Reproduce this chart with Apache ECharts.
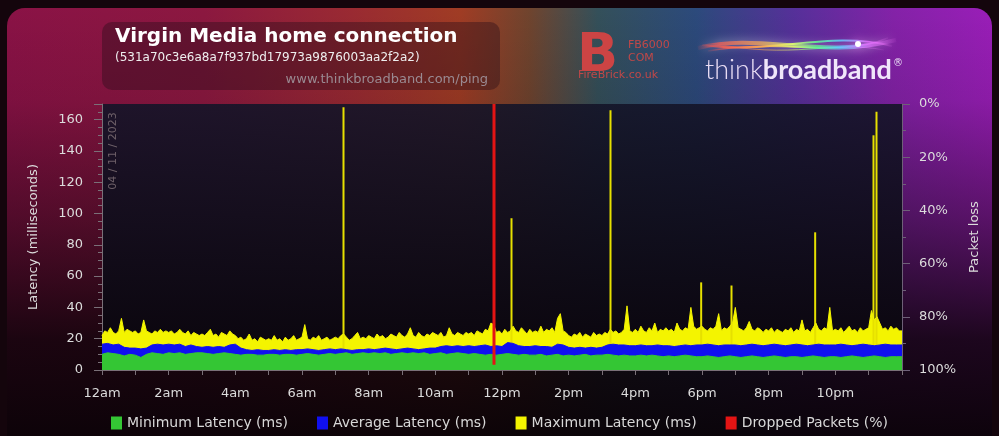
<!DOCTYPE html>
<html><head><meta charset="utf-8">
<script src="https://cdn.jsdelivr.net/npm/echarts@6/dist/echarts.min.js"></script>
<style>html,body{margin:0;padding:0;background:#12050c}#c{width:999px;height:436px}</style>
</head><body><div id="c"></div>
<script>
// x-axis tick labels (every 2 hours)
const xLabels = ['12am','2am','4am','6am','8am','10am','12pm','2pm','4pm','6pm','8pm','10pm'];
// Minimum latency (ms), one value every 10 minutes from 00:00 to 24:00
const minLatency = [
 10,11,10.5,10,9,10,  9.5,8,10,11,10.5,10,  11,10.5,11,10,10.5,11,  11,10.5,10,10.5,11,10.5,
 10,9.5,10,10,9.5,9.5,  10,10,9.5,10,10,9.5,  10,10.5,10,9.5,10,10.5,  10,10.5,11,10,10.5,11,
 10.5,11,10.5,11,10,10.5,  11,10.5,11,10.5,11,10,  10.5,11,10,10.5,11,10.5,  10,10.5,10,9.5,10,9.5,
 10,10.5,10,9.5,10,9.5,  9.5,10,9,9.5,10,9,  9.5,9,9.5,10,9,9.5,  9.5,10,9.5,9,9.5,9,
 9,9.5,9,9.5,9,8.5,  9,8.5,9,9.5,9,8.5,  8.5,9,8.5,8,8.5,9,  8.5,8,8.5,9,8.5,8,
 8.5,9,8.5,8,8.5,8.5,  8,8.5,9,8.5,8,8.5,  8.5,8,8.5,9,8.5,8,  8.5,9,8.5,8,8.5,8.5,
 8.5
];
// Average latency (ms), one value every 10 minutes
const avgLatency = [
 16.5,17,16,16.5,14.5,14,  14,13.5,14,16,16.5,16,  16.5,16,16.5,15,16,15,  14.5,15,14.5,15,14.5,16,
 16.5,14,13,12.5,13,12.5,  12.5,13,12.5,13,12.5,13,  13,13.5,13,12.5,13,13.5,  13,13.5,13,12.5,13,13,
 13.5,13,13.5,14,13.5,13,  13.5,14,13.5,13,13.5,14,  14,15,15.5,15,15.5,15,  15.5,15,15.5,16,15,15.5,
 15,17.5,17,15.5,15,15,  15.5,15,15,14.5,16.5,16,  14.5,14,14.5,14,14.5,14,  14.5,16,16.5,16,16,15.5,
 15.5,16,15.5,15.5,16,15.5,  15.5,15,15.5,16,15.5,16,  16,16.5,16,15.5,16,16,  16,15.5,16,16.5,16,15.5,
 16,16.5,16,15.5,16,16.5,  16,15.5,16,16.5,16,16,  16,16.5,16,15.5,16,16.5,  16,15.5,16,16.5,16,16,
 16
];
// Maximum latency (ms), one value every 5 minutes (background level)
const maxLatency = [
 22,25,24,27,24,23,25,33,24,26,25,24,
 25,23,24,32,25,24,23,25,24,26,24,25,
 24,25,23,24,26,24,23,25,22,24,23,22,
 23,22,24,26,22,23,21,24,23,22,25,23,
 22,20,21,19,20,23,19,20,18,21,20,19,
 20,19,22,19,20,18,21,19,20,22,19,20,
 21,29,20,19,21,20,22,19,20,21,19,20,
 21,20,22,23,21,19,20,22,24,20,21,20,
 22,21,20,23,21,22,20,21,23,22,21,24,
 22,21,23,27,22,21,24,22,21,23,22,24,
 23,22,24,21,22,27,23,22,24,23,22,24,
 23,24,22,25,24,23,26,25,30,29,24,25,
 23,26,24,25,28,25,24,27,25,23,26,24,
 25,24,28,24,26,25,27,24,33,36,25,24,
 22,21,23,22,24,21,23,22,21,24,22,23,
 22,24,23,26,24,25,23,24,26,41,25,24,
 26,24,28,25,24,27,25,30,24,26,25,27,
 25,26,24,30,26,25,27,26,40,28,26,27,
 28,26,25,27,26,28,36,25,27,26,28,30,
 40,27,26,25,27,31,26,25,27,26,24,26,
 25,27,24,26,25,24,26,25,27,24,26,25,
 32,25,26,24,27,30,26,25,27,26,40,25,
 26,25,27,24,26,28,25,26,24,27,25,26,
 27,38,32,34,30,26,27,25,28,26,27,25,
 25
];
// Isolated maximum-latency spikes: time (hours) and value (ms)
const spikeTimes  = [7.26, 12.3, 15.27, 17.99, 18.9, 21.41, 23.16, 23.25];
const spikeValues = [168, 97, 166, 56, 54, 88, 150, 165];
// Dropped packets: time (hours) and loss (%)
const dropTimes = [11.76];
const dropPercent = [98];

const FONT = 'DejaVu Sans';
const chart = echarts.init(document.getElementById('c'), null, {renderer:'canvas'});

const bgH = {type:'linear',x:0,y:0,x2:1,y2:0,colorStops:[
  {offset:0,color:'#8a1246'},{offset:0.2,color:'#8c1840'},{offset:0.35,color:'#9a2a32'},
  {offset:0.46,color:'#a03c24'},{offset:0.53,color:'#70442e'},{offset:0.6,color:'#34505a'},
  {offset:0.7,color:'#2c4a7c'},{offset:0.8,color:'#56309a'},{offset:0.9,color:'#8422a8'},{offset:1,color:'#9a1eb8'}]};
const bgV = {type:'linear',x:0,y:0,x2:0,y2:1,colorStops:[
  {offset:0,color:'rgba(10,2,8,0)'},{offset:0.2,color:'rgba(10,2,8,0.1)'},
  {offset:0.45,color:'rgba(14,3,10,0.45)'},{offset:0.72,color:'rgba(12,3,9,0.88)'},{offset:1,color:'rgba(8,2,6,1)'}]};
const wave = {type:'linear',x:0,y:0,x2:1,y2:0,colorStops:[
  {offset:0,color:'rgba(255,80,80,0)'},{offset:0.12,color:'#ff6050'},{offset:0.32,color:'#ffb050'},
  {offset:0.48,color:'#e0ff70'},{offset:0.6,color:'#60ff90'},{offset:0.72,color:'#60d0ff'},
  {offset:0.86,color:'#e070ff'},{offset:1,color:'rgba(255,120,255,0)'}]};

const YEL = '#f4f400';
const option = {
  backgroundColor:'#12050c',
  animation:false,
  graphic:[
    {type:'rect',z:-30,shape:{x:0,y:0,width:999,height:436},style:{fill:'#14050c'}},
    {type:'rect',z:-29,shape:{x:7,y:8,width:985,height:460,r:18},style:{fill:bgH}},
    {type:'rect',z:-28,shape:{x:7,y:8,width:985,height:460,r:18},style:{fill:bgV}},
    {type:'rect',z:-27,shape:{x:102,y:104,width:800,height:266},style:{fill:{type:'linear',x:0,y:0,x2:0,y2:1,colorStops:[
      {offset:0,color:'rgba(20,20,40,0.9)'},{offset:1,color:'rgba(10,5,12,0.96)'}]}}},
    {type:'rect',z:-26,shape:{x:102,y:22,width:398,height:68,r:10},style:{fill:'rgba(40,12,24,0.4)'}},
    {type:'text',z:-25,style:{x:115,y:37,text:'Virgin Media home connection',fill:'#ffffff',font:'bold 20px "DejaVu Sans"',textVerticalAlign:'middle'}},
    {type:'text',z:-25,style:{x:115,y:58,text:'(531a70c3e6a8a7f937bd17973a9876003aa2f2a2)',fill:'#eeeeee',font:'12px "DejaVu Sans"',textVerticalAlign:'middle'}},
    {type:'text',z:-25,style:{x:488,y:80,text:'www.thinkbroadband.com/ping',fill:'#9a8a92',font:'13px "DejaVu Sans"',textAlign:'right',textVerticalAlign:'middle'}},
    {type:'text',z:-25,style:{x:577,y:57,text:'B',fill:'#cc4444',font:'bold 54px "DejaVu Sans"',textVerticalAlign:'middle'}},
    {type:'text',z:-25,style:{x:628,y:45,text:'FB6000',fill:'#c04848',font:'11px "DejaVu Sans"',textVerticalAlign:'middle'}},
    {type:'text',z:-25,style:{x:628,y:58,text:'COM',fill:'#c04848',font:'11px "DejaVu Sans"',textVerticalAlign:'middle'}},
    {type:'text',z:-25,style:{x:578,y:75,text:'FireBrick.co.uk',fill:'#c04848',font:'11px "DejaVu Sans"',textVerticalAlign:'middle'}},
    {type:'bezierCurve',z:-25,shape:{x1:698,y1:48,cpx1:760,cpy1:32,cpx2:820,cpy2:60,x2:896,y2:40},style:{stroke:wave,lineWidth:4,fill:null,opacity:0.7,shadowBlur:10,shadowColor:'rgba(255,255,255,0.7)'}},
    {type:'bezierCurve',z:-25,shape:{x1:702,y1:45,cpx1:770,cpy1:55,cpx2:830,cpy2:30,x2:892,y2:46},style:{stroke:wave,lineWidth:2,fill:null,opacity:0.85}},
    {type:'bezierCurve',z:-25,shape:{x1:708,y1:51,cpx1:780,cpy1:38,cpx2:840,cpy2:58,x2:888,y2:38},style:{stroke:wave,lineWidth:1.5,fill:null,opacity:0.75}},
    {type:'bezierCurve',z:-25,shape:{x1:712,y1:43,cpx1:790,cpy1:60,cpx2:835,cpy2:40,x2:884,y2:50},style:{stroke:wave,lineWidth:1,fill:null,opacity:0.6}},
    {type:'circle',z:-25,shape:{cx:858,cy:44,r:3},style:{fill:'#ffffff',shadowBlur:12,shadowColor:'#ff80ff'}},
    {type:'text',z:-25,style:{x:705,y:70,text:'{a|think}{b|broadband}{c|®}',textVerticalAlign:'middle',rich:{
      a:{fill:'#e8dcf4',font:'300 27px "Lato"'},b:{fill:'#f0e6fa',font:'bold 27px "Lato"'},c:{fill:'#e8dcf4',font:'10px "DejaVu Sans"',padding:[0,0,14,1]}}}},
    {type:'text',z:-25,rotation:Math.PI/2,x:113,y:151,style:{x:0,y:0,text:'04 / 11 / 2023',fill:'#6e6068',font:'11px "DejaVu Sans"',textAlign:'center',textVerticalAlign:'middle'}}
  ],
  legend:{
    left:106, top:411, itemWidth:11, itemHeight:13, itemGap:29, icon:'rect',
    textStyle:{color:'#d8d8d8',fontSize:14,fontFamily:FONT},
    data:['Minimum Latency (ms)','Average Latency (ms)','Maximum Latency (ms)','Dropped Packets (%)']
  },
  grid:{left:102, top:104, width:800, height:266, containLabel:false},
  xAxis:{
    type:'value', min:0, max:24, interval:1,
    axisLine:{lineStyle:{color:'#7a7078'}},
    axisTick:{length:5,lineStyle:{color:'#7a7078'}},
    splitLine:{show:false},
    axisLabel:{color:'#dcdcdc',fontSize:13,fontFamily:FONT,margin:17,
      formatter:v=> (v%2===0 && v<24) ? xLabels[v/2] : ''}
  },
  yAxis:[{
    type:'value', min:0, max:170, interval:20,
    name:'Latency (milliseconds)', nameLocation:'middle', nameGap:62, nameRotate:90,
    nameTextStyle:{color:'#dcdcdc',fontSize:13,fontFamily:FONT},
    axisLine:{show:true,lineStyle:{color:'#7a7078'}},
    axisTick:{show:true,length:8,lineStyle:{color:'#7a7078'}},
    minorTick:{show:true,splitNumber:4,length:4,lineStyle:{color:'#7a7078'}},
    splitLine:{show:false},
    axisLabel:{color:'#dcdcdc',fontSize:13,fontFamily:FONT,margin:19,formatter:v=> v>160 ? '' : String(v)}
  },{
    type:'value', min:0, max:100, interval:20, inverse:true, position:'right',
    name:'Packet loss', nameLocation:'middle', nameGap:66, nameRotate:90,
    nameTextStyle:{color:'#dcdcdc',fontSize:13,fontFamily:FONT},
    axisLine:{show:true,lineStyle:{color:'#6e6078'}},
    axisTick:{show:true,length:8,lineStyle:{color:'#6e6078'}},
    minorTick:{show:true,splitNumber:2,length:4,lineStyle:{color:'#6e6078'}},
    splitLine:{show:false},
    axisLabel:{color:'#dcdcdc',fontSize:13,fontFamily:FONT,margin:17,formatter:'{value}%'}
  }],
  series:[
    {name:'Maximum Latency (ms)',type:'line',symbol:'none',z:2,
     data:maxLatency.map((v,i)=>[i/12,v]),
     itemStyle:{color:YEL},lineStyle:{width:1,color:YEL},areaStyle:{color:YEL,opacity:1}},
    {name:'Maximum Latency (ms)',type:'bar',z:2,barWidth:2,barGap:'-100%',
     data:spikeTimes.map((t,i)=>[t,spikeValues[i]]),
     itemStyle:{color:'#e6e000'}},
    {name:'Average Latency (ms)',type:'line',symbol:'none',z:3,
     data:avgLatency.map((v,i)=>[i/6,v]),
     itemStyle:{color:'#1010f0'},lineStyle:{width:1,color:'#1010f0'},areaStyle:{color:'#1010f0',opacity:1}},
    {name:'Minimum Latency (ms)',type:'line',symbol:'none',z:4,
     data:minLatency.map((v,i)=>[i/6,v]),
     itemStyle:{color:'#34c634'},lineStyle:{width:1,color:'#34c634'},areaStyle:{color:'#34c634',opacity:1}},
    {name:'Dropped Packets (%)',type:'bar',yAxisIndex:1,z:5,barWidth:3,barGap:'-100%',
     data:dropTimes.map((t,i)=>[t,dropPercent[i]]),
     itemStyle:{color:'#e41414'}}
  ]
};
chart.setOption(option);
</script>
</body></html>
